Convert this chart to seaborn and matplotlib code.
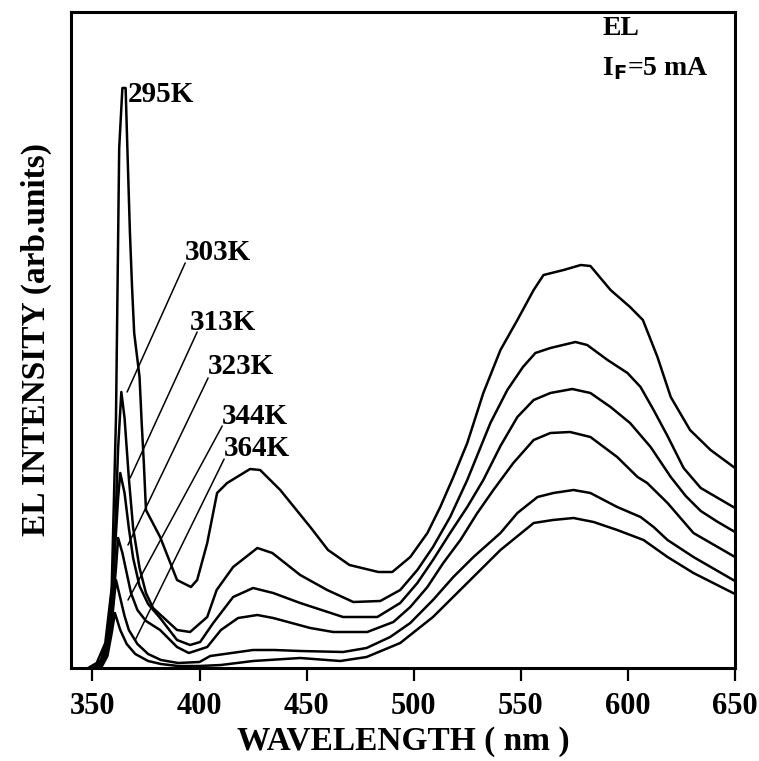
import numpy as np
import pandas as pd
import matplotlib
matplotlib.use("Agg")
import matplotlib.pyplot as plt
import seaborn as sns

# EL spectra (wavelength nm, intensity arb. units)
wl_295 = [348, 352, 356, 359, 361, 362.5, 364, 365.5, 366.2, 367.5, 368.5, 369.5, 372, 373, 374, 375,
          381.6, 389.5, 396, 398.9, 403.6, 408.2, 412.9, 423.6, 428.3, 437.7, 451.7, 460, 470, 483.5,
          490, 498.4, 506.4, 512.4, 518.5, 525, 532.5, 540.5, 548.4, 556, 560.6, 570, 578, 582.5,
          591.9, 601, 607, 613.8, 620, 629, 638.6, 650]
int_295 = [0, 5, 25, 80, 250, 520, 580, 580, 528, 436, 381, 335, 291, 245, 205, 158,
           131, 88, 81, 88, 125, 175, 185, 199, 198, 178, 141, 118, 103, 96,
           96, 111, 135, 161, 191, 225, 275, 318, 348, 378, 393, 398, 403, 402,
           378, 361, 348, 311, 271, 238, 218, 200]

wl_303 = [350, 354, 357, 360, 362, 363.5, 365, 367, 369, 372, 375, 378.3, 389.5, 395.6, 403.6, 408,
          415.7, 427, 434, 447, 459.6, 471.8, 484.4, 493.7, 501.7, 509, 517, 525, 535.8, 543.7,
          551, 556.8, 563.8, 575.5, 581, 590.5, 599.8, 605.9, 612, 618.5, 626, 634, 642, 650]
int_303 = [0, 8, 30, 100, 220, 276, 250, 190, 140, 100, 75, 60, 38, 36, 51, 78,
           101, 120, 115, 93, 78, 66, 67, 78, 98, 121, 151, 188, 245, 278,
           301, 315, 320, 326, 323, 308, 295, 281, 258, 232, 200, 180, 170, 160]

wl_313 = [351, 355, 358, 360, 362, 363, 365, 367, 369, 372, 376, 381.6, 389.5, 395.6, 400.3, 406.4,
          415.7, 425, 434.4, 447, 467, 483, 493.7, 501.7, 509, 517, 525, 532.5, 540.5, 548.4,
          556, 563.8, 574, 582.5, 591.9, 601, 610.6, 620, 627, 634, 642, 650]
int_313 = [0, 10, 40, 100, 170, 195, 175, 140, 110, 82, 64, 50, 28, 23, 26, 45,
           71, 80, 75, 65, 51, 51, 65, 85, 108, 135, 161, 188, 222, 251,
           268, 275, 279, 275, 261, 245, 221, 191, 172, 157, 146, 136]

wl_323 = [352, 356, 359, 361, 362, 364, 366, 368, 371, 375, 381.6, 389.5, 395, 403.6, 410, 418,
          427, 434.4, 451.7, 462.4, 478.3, 490.5, 498.4, 506.4, 513.8, 521.8, 529.7, 537.2, 546.5,
          556, 563.8, 573, 582.5, 595, 604.5, 609, 618.5, 630.6, 650]
int_323 = [0, 12, 50, 100, 130, 115, 95, 75, 58, 47, 38, 21, 15, 21, 38, 50,
           53, 50, 40, 36, 36, 46, 61, 81, 105, 128, 155, 178, 205,
           228, 235, 236, 231, 211, 191, 185, 165, 135, 111]

wl_344 = [353, 357, 359, 361, 363, 365, 367, 371, 376, 382, 390, 400, 405, 415, 425, 435, 447,
          467, 478, 489, 498.4, 509, 518.5, 527.9, 540.5, 548.4, 557.8, 565.2, 574.6, 582.5,
          595, 605.9, 612, 618.5, 630.6, 650]
int_344 = [0, 15, 45, 88, 70, 52, 38, 24, 14, 8, 5, 6, 12, 15, 18, 18, 17,
           16, 20, 31, 45, 68, 91, 111, 135, 155, 171, 175, 178, 175,
           161, 151, 141, 128, 111, 87]

wl_364 = [354, 357, 359, 360.5, 363, 366, 370, 376, 382, 390, 400, 410, 425, 447, 465.7, 478,
          493.7, 509, 525, 540.5, 556, 565, 574.6, 584, 595, 607.3, 618.5, 630.6, 650]
int_364 = [0, 12, 35, 55, 38, 24, 14, 7, 4, 2, 2, 3, 7, 10, 7, 11,
           25, 51, 85, 118, 145, 148, 150, 146, 138, 128, 111, 95, 74]

temps = ["295K", "303K", "313K", "323K", "344K", "364K"]
wls = [wl_295, wl_303, wl_313, wl_323, wl_344, wl_364]
ints = [int_295, int_303, int_313, int_323, int_344, int_364]

# label text position and leader line end (wavelength, intensity)
label_xy = [(366.6, 574), (393.3, 416), (395.6, 346), (404, 301), (410.6, 252), (411.5, 220)]
leader_from = [None, (393.3, 405), (398.9, 336), (404, 290), (410.6, 242), (411.5, 209)]
leader_to = [None, (366.2, 276), (367.6, 190), (366.6, 123), (366.6, 68), (370, 28)]

xticks = [350, 400, 450, 500, 550, 600, 650]

df = pd.concat([pd.DataFrame({"wl": w, "I": i, "T": t}) for w, i, t in zip(wls, ints, temps)])

sns.set_theme(style="white")
plt.rcParams["font.family"] = ["Liberation Serif", "DejaVu Serif"]
plt.rcParams["font.weight"] = "bold"
plt.rcParams["text.color"] = "black"
plt.rcParams["axes.labelcolor"] = "black"
plt.rcParams["xtick.color"] = "black"

fig = plt.figure(figsize=(7.59, 7.61), dpi=100)
ax = fig.add_axes([71 / 759, 93 / 761, 664 / 759, 656 / 761])

sns.lineplot(data=df, x="wl", y="I", hue="T", palette=["black"] * 6, sort=False,
             estimator=None, linewidth=1.8, legend=False, ax=ax)

for t, (lx, ly), lf, lt in zip(temps, label_xy, leader_from, leader_to):
    ax.text(lx, ly, t, fontsize=21, fontweight="bold", ha="left", va="center")
    if lf is not None:
        ax.plot([lf[0], lt[0]], [lf[1], lt[1]], color="black", lw=1.1)

ax.text(0.80, 0.975, "EL", transform=ax.transAxes, fontsize=20, fontweight="bold",
        ha="left", va="center")
ax.text(0.80, 0.914, r"I$_{\mathbf{F}}$=5 mA", transform=ax.transAxes, fontsize=20,
        fontweight="bold", ha="left", va="center")

ax.set_xlim(340, 650)
ax.set_ylim(0, 656)
ax.set_xticks(xticks)
ax.set_xticklabels([str(x) for x in xticks], fontsize=22, fontweight="bold")
ax.set_yticks([])
ax.tick_params(axis="x", direction="out", length=9, width=1.6, pad=8, bottom=True)
for s in ax.spines.values():
    s.set_color("black")
    s.set_linewidth(2.2)

ax.set_xlabel("WAVELENGTH ( nm )", fontsize=24, fontweight="bold", labelpad=4)
ax.set_ylabel("EL INTENSITY (arb.units)", fontsize=24, fontweight="bold", labelpad=14)

fig.savefig("out.png", dpi=100, facecolor="white")
